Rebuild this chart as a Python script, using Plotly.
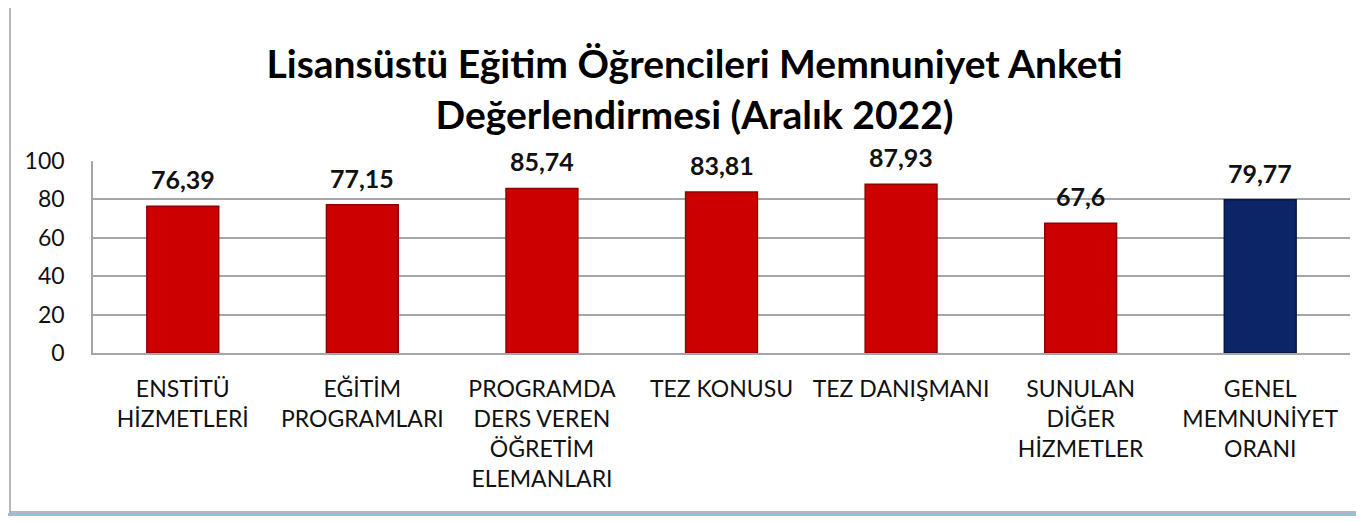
import plotly.graph_objects as go

categories = ["ENSTİTÜ<br>HİZMETLERİ", "EĞİTİM<br>PROGRAMLARI",
              "PROGRAMDA<br>DERS VEREN<br>ÖĞRETİM<br>ELEMANLARI",
              "TEZ KONUSU", "TEZ DANIŞMANI",
              "SUNULAN<br>DİĞER<br>HİZMETLER",
              "GENEL<br>MEMNUNİYET<br>ORANI"]
values = [76.39, 77.15, 85.74, 83.81, 87.93, 67.6, 79.77]
labels = ["76,39", "77,15", "85,74", "83,81", "87,93", "67,6", "79,77"]
colors = ["#CC0000"] * 6 + ["#0B2566"]
edges = ["#900000"] * 6 + ["#061640"]

# page has an 8px body margin; figure sized to fit the 1364x521 window
W, H = 1356, 513
L, R, T, B = 85, 14, 153, 168
pw, ph = W - L - R, H - T - B

def px(x):
    return (x - L) / pw

def py(y):
    return (H - B - y) / ph

FONT = "Lato"

fig = go.Figure(go.Bar(
    x=categories, y=values,
    marker=dict(color=colors, line=dict(color=edges, width=1.5)),
    cliponaxis=False, width=0.4, hoverinfo="x+y",
))

for c, v, t in zip(categories, values, labels):
    fig.add_annotation(x=c, y=v, text="<b>" + t + "</b>", showarrow=False,
                       yanchor="bottom", yshift=10,
                       font=dict(family=FONT, size=25, color="#111111"))

fig.update_layout(
    width=W, height=H,
    margin=dict(l=L, r=R, t=T, b=B),
    paper_bgcolor="white", plot_bgcolor="white",
    showlegend=False,
    title=dict(text="<b>Lisansüstü Eğitim Öğrencileri Memnuniyet Anketi<br>Değerlendirmesi (Aralık 2022)</b>",
               x=0.5063, xanchor="center", y=1 - 70 / H, yanchor="middle",
               font=dict(family=FONT, size=39, color="#000000")),
    font=dict(family=FONT, color="#111111"),
)
fig.update_yaxes(range=[0, 100], tickvals=[0, 20, 40, 60, 80, 100],
                 showgrid=True, gridcolor="#A6A6A6", gridwidth=1.5,
                 showline=True, linecolor="#A6A6A6", linewidth=1.5,
                 zeroline=False, ticks="outside", ticklen=0, tickcolor="white",
                 tickfont=dict(family=FONT, size=23, color="#111111"),
                 ticklabelstandoff=22)
fig.update_xaxes(showline=True, linecolor="#A6A6A6", linewidth=1.5,
                 tickfont=dict(family=FONT, size=23, color="#111111"),
                 ticklabelstandoff=15, tickangle=0)

# outer chart border
fig.add_shape(type="line", xref="paper", yref="paper",
              x0=px(2), x1=px(2), y0=py(505), y1=py(0),
              line=dict(color="#A0A0A0", width=1.5))
fig.add_shape(type="line", xref="paper", yref="paper",
              x0=px(2), x1=px(W), y0=py(504), y1=py(504),
              line=dict(color="#A0A0A0", width=1.5))
fig.add_shape(type="line", xref="paper", yref="paper",
              x0=px(-8), x1=px(W), y0=py(506.5), y1=py(506.5),
              line=dict(color="#8EC3DA", width=3))

fig.write_html("out.html")
